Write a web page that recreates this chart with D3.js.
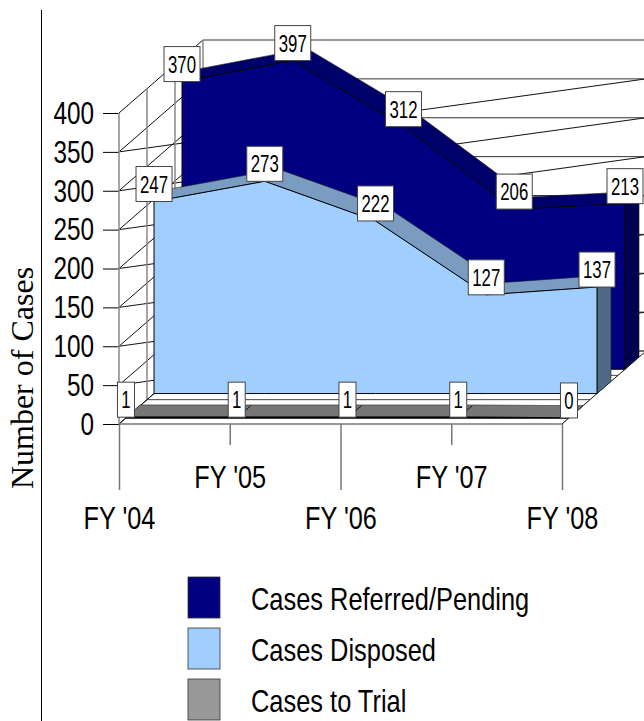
<!DOCTYPE html>
<html>
<head>
<meta charset="utf-8">
<script src="https://cdn.jsdelivr.net/npm/d3@7"></script>
<style>
body { margin: 0; background: #fff; }
svg { display: block; }
text { fill: #000; font-family: "Liberation Sans", sans-serif; }
</style>
</head>
<body>
<script>
var categories = ["FY '04", "FY '05", "FY '06", "FY '07", "FY '08"];
var referred = [370, 397, 312, 206, 213];
var disposed = [247, 273, 222, 127, 137];
var trial = [1, 1, 1, 1, 0];
var yTicks = [0, 50, 100, 150, 200, 250, 300, 350, 400];
var legendNames = ["Cases Referred/Pending", "Cases Disposed", "Cases to Trial"];

var width = 644, height = 721;
var depthX = 84, depthY = -73;

var x = d3.scalePoint().domain(categories).range([119, 562]);
var y = d3.scaleLinear().domain([0, 400]).range([424, 113]);

var series = [
    {values: referred, front: 0.75, back: 0.917, face: "#000080", top: "#00006b", side: "#000050", edge: 1},
    {values: disposed, front: 0.417, back: 0.583, face: "#a0cfff", top: "#7a9cc0", side: "#4f6a85", edge: 1},
    {values: trial, front: 0.083, back: 0.25, face: "#999999", top: "#777777", side: "#555555", edge: 1.5}
];

var svg = d3.select("body").append("svg")
    .attr("width", width)
    .attr("height", height);

// project a point in the chart onto the page, d is depth 0..1
var px = (c, d) => x(c) + d * depthX;
var py = (v, d) => y(v) + d * depthY;
var line = d3.line();

function seg(p, stroke, sw) {
    svg.append("path")
        .attr("d", line(p))
        .attr("fill", "none")
        .attr("stroke", stroke)
        .attr("stroke-width", sw);
}

// the original uses a condensed Arial, no narrow face here so squeeze the glyphs
function squeeze(sel, k) {
    sel.each(function () {
        var len = this.getComputedTextLength();
        d3.select(this)
            .attr("textLength", len * k)
            .attr("lengthAdjust", "spacingAndGlyphs");
    });
}

// rule to the left of the axis
svg.append("line")
    .attr("x1", 41.5).attr("x2", 41.5)
    .attr("y1", 10).attr("y2", height)
    .attr("stroke", "#000");

var first = categories[0], last = categories[categories.length - 1];

// back wall grid
yTicks.forEach((t) => {
    seg([[px(first, 1), py(t, 1)], [width + 2, py(t, 1)]], "#333", 1);
});
// the slanted lines across the back, as in the original
yTicks.slice(1, -1).forEach((t) => {
    seg([[px(first, 0), py(t, 0)], [px(last, 1), py(t, 1)]], "#111", 1);
});
// side wall
yTicks.forEach((t) => {
    seg([[px(first, 0), py(t, 0)], [px(first, 1), py(t, 1)]], "#111", 1);
});
[1 / 3, 2 / 3, 1].forEach((d) => {
    seg([[px(first, d), py(400, d)], [px(first, d), py(0, d)]], "#888", 1.5);
});

// floor
[1 / 3, 2 / 3, 1].forEach((d) => {
    seg([[px(first, d), py(0, d)], [px(last, d), py(0, d)]], "#444", 1);
});
seg([[px(first, 0), py(0, 0)], [px(first, 1), py(0, 1)]], "#111", 1);
seg([[px(last, 0), py(0, 0)], [px(last, 1), py(0, 1)]], "#111", 1);

// series, back to front
series.forEach((s) => {
    var g = svg.append("g");
    var xf = (d) => px(d.c, s.front);
    var yf = (d) => py(d.v, s.front);
    var pts = s.values.map((v, i) => ({c: categories[i], v: v}));
    var end = pts[pts.length - 1];

    // right side
    g.append("path")
        .attr("d", line([
            [px(end.c, s.front), py(0, s.front)],
            [px(end.c, s.back), py(0, s.back)],
            [px(end.c, s.back), py(end.v, s.back)],
            [px(end.c, s.front), py(end.v, s.front)]
        ]) + "Z")
        .attr("fill", s.side)
        .attr("stroke", "#222")
        .attr("stroke-width", 0.6);

    // top strip
    var rim = pts.map((d) => [px(d.c, s.front), py(d.v, s.front)])
        .concat(pts.slice().reverse().map((d) => [px(d.c, s.back), py(d.v, s.back)]));
    g.append("path")
        .attr("d", line(rim) + "Z")
        .attr("fill", s.top)
        .attr("stroke", "#222")
        .attr("stroke-width", 0.6);

    // front face
    g.append("path")
        .datum(pts)
        .attr("d", d3.area().x(xf).y0(py(0, s.front)).y1(yf))
        .attr("fill", s.face)
        .attr("stroke", "#000")
        .attr("stroke-width", s.edge);
});

// bits of the floor lines that show over the grey
categories.slice(1, -1).forEach((c) => {
    seg([[px(c, 0.1), py(0, 0.1)], [px(c, 0.25), py(0, 0.25)]], "#111", 1);
});

// axes
var yAxis = d3.axisLeft(y).tickValues(yTicks).tickSize(16).tickPadding(9);
var gy = svg.append("g")
    .attr("transform", `translate(${px(first, 0)},0)`)
    .call(yAxis);
gy.select(".domain").remove();
gy.selectAll("line").attr("stroke", "#000");
gy.selectAll("text").attr("font-size", 32).attr("fill", "#000")
    .style("font-family", '"Liberation Sans", sans-serif')
    .call(squeeze, 0.76);

var xAxis = d3.axisBottom(x).tickSize(0);
var gx = svg.append("g")
    .attr("transform", `translate(0,${y(0)})`)
    .call(xAxis);
gx.select(".domain").remove();
gx.selectAll("line")
    .attr("stroke", "#777")
    .attr("stroke-width", 1.5)
    .attr("y2", (d, i) => i % 2 ? 21 : 66);
gx.selectAll("text")
    .attr("font-size", 32)
    .attr("fill", "#000")
    .style("font-family", '"Liberation Sans", sans-serif')
    .attr("dy", null)
    .attr("y", (d, i) => i % 2 ? 64 : 105)
    .call(squeeze, 0.79);

seg([[px(first, 0), y(400)], [px(first, 0), y(0)]], "#888", 1.5);
seg([[px(first, 0), y(0)], [px(last, 0), y(0)]], "#777", 1.5);

// value labels sit on the front top of each series
series.slice().reverse().forEach((s) => {
    s.values.forEach((v, i) => {
        var c = categories[i];
        var w = String(v).length > 1 ? 36 : 17;
        var g = svg.append("g")
            .attr("transform", `translate(${px(c, s.front)},${py(v, s.front)})`);
        g.append("rect")
            .attr("x", -w / 2).attr("y", -35)
            .attr("width", w).attr("height", 35)
            .attr("fill", "#fff")
            .attr("stroke", "#444");
        g.append("text")
            .attr("text-anchor", "middle")
            .attr("transform", "translate(0,-9) scale(0.7,1)")
            .attr("font-size", 24)
            .text(v);
    });
});

// axis title
svg.append("text")
    .attr("transform", "translate(33,378) rotate(-90)")
    .attr("text-anchor", "middle")
    .attr("font-size", 32)
    .style("font-family", '"Liberation Serif", serif')
    .text("Number of Cases");

// legend
legendNames.forEach((name, i) => {
    var top = 577 + i * 51;
    svg.append("rect")
        .attr("x", 188).attr("y", top)
        .attr("width", 32).attr("height", 41)
        .attr("fill", series[i].face)
        .attr("stroke", "#333")
        .attr("stroke-width", 0.8);
    svg.append("text")
        .attr("x", 251).attr("y", top + 33)
        .attr("font-size", 32)
        .text(name)
        .call(squeeze, 0.794);
});
</script>
</body>
</html>
